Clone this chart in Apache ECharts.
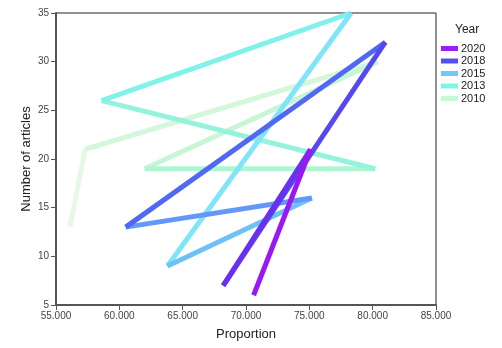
<!DOCTYPE html>
<html>
<head>
<meta charset="utf-8">
<script src="https://cdn.jsdelivr.net/npm/echarts@6/dist/echarts.min.js"></script>
<style>
  html, body { margin: 0; padding: 0; background: #fff; }
  #chart { width: 502px; height: 348px; }
</style>
</head>
<body>
<div id="chart"></div>
<script>
// points of the path, in drawing order
const proportion = [56.1, 57.3, 80.4, 62.0, 80.2, 58.6, 78.3, 63.8, 75.2, 60.5, 81.0, 68.2, 75.1, 70.6];
const articles = [13, 21, 30, 19, 19, 26, 35, 9, 16, 13, 32, 7, 21, 6];
// year of each segment between consecutive points
const segmentYear = ['2010', '2010', '2010', '2010', '2013', '2013', '2013', '2015', '2015', '2018', '2018', '2018', '2020'];
const legendYears = ['2020', '2018', '2015', '2013', '2010'];

const yearColors = {
  '2020': '#9b1ef8',
  '2018': '#5050f5',
  '2015': '#70c8fa',
  '2013': '#80f5e5',
  '2010': '#c8f8d8'
};
// the line fades from one year colour into the next
const segmentColors = ['#e6f9e8', '#d4f7dc', '#c8f5d5', '#b0f5d2', '#95f2dc', '#80f2ea', '#80e5f8',
  '#6ec0f8', '#6498f8', '#5068f2', '#5548f0', '#6a30f0', '#9a18f2'];

const chart = echarts.init(document.getElementById('chart'));

const series = segmentYear.map((year, i) => ({
  type: 'line',
  name: year,
  data: [[proportion[i], articles[i]], [proportion[i + 1], articles[i + 1]]],
  showSymbol: false,
  silent: true,
  animation: false,
  z: 2 + i,
  lineStyle: { width: 5, color: segmentColors[i], cap: 'butt' }
}));

const axisText = { color: '#444', fontSize: 10, fontFamily: 'Liberation Sans' };

chart.setOption({
  animation: false,
  title: {
    text: 'Year',
    left: 450,
    top: 19,
    textStyle: { fontSize: 12, fontWeight: 'normal', color: '#222', fontFamily: 'Liberation Sans' }
  },
  legend: {
    orient: 'vertical',
    left: 436,
    top: 38,
    icon: 'rect',
    itemWidth: 17,
    itemHeight: 5,
    itemGap: 1.5,
    textStyle: { fontSize: 11, color: '#222', fontFamily: 'Liberation Sans', padding: [0, 0, 0, -2] },
    data: legendYears.map(y => ({ name: y, itemStyle: { color: yearColors[y] } }))
  },
  grid: {
    left: 56, right: 66, top: 13, bottom: 43,
    show: true, borderColor: '#222', borderWidth: 1
  },
  xAxis: {
    type: 'value',
    min: 55, max: 85, interval: 5,
    name: 'Proportion',
    nameLocation: 'middle',
    nameGap: 23,
    nameMoveOverlap: false,
    nameTextStyle: { fontSize: 13, color: '#222', fontFamily: 'Liberation Sans' },
    axisLine: { show: true, lineStyle: { color: '#555', width: 2 } },
    axisTick: { show: true, length: 5, lineStyle: { color: '#555', width: 1 } },
    axisLabel: Object.assign({ margin: 6, formatter: v => v.toFixed(3) }, axisText),
    splitLine: { show: false }
  },
  yAxis: {
    type: 'value',
    min: 5, max: 35, interval: 5,
    name: 'Number of articles',
    nameLocation: 'middle',
    nameGap: 23,
    nameMoveOverlap: false,
    nameTextStyle: { fontSize: 13, color: '#222', fontFamily: 'Liberation Sans' },
    axisLine: { show: true, lineStyle: { color: '#555', width: 2 } },
    axisTick: { show: true, length: 5, lineStyle: { color: '#555', width: 1 } },
    axisLabel: Object.assign({ margin: 7 }, axisText),
    splitLine: { show: false }
  },
  series: series
});
</script>
</body>
</html>
